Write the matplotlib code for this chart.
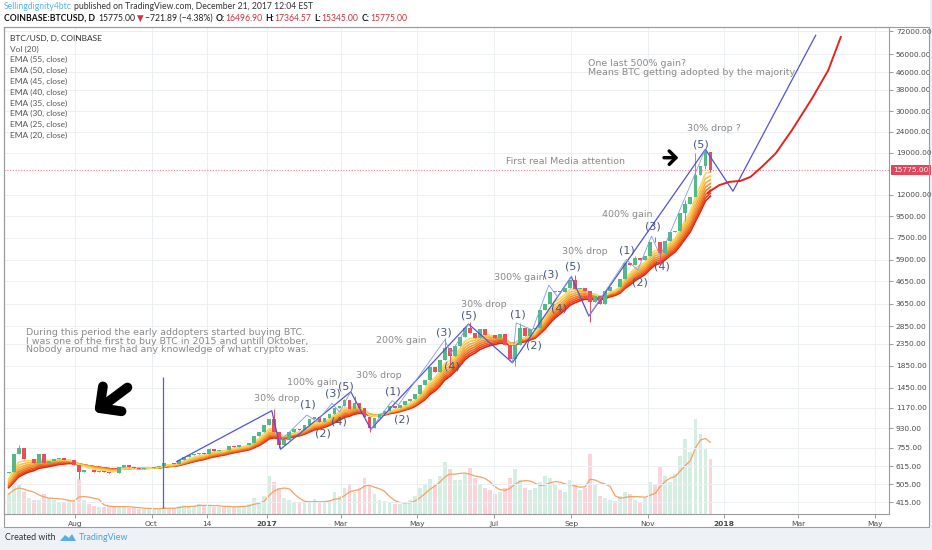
import datetime as dt
import numpy as np
import pandas as pd
import matplotlib
matplotlib.use("Agg")
import matplotlib.pyplot as plt
import matplotlib.dates as mdates
import matplotlib.transforms as mtransforms
from matplotlib.patches import Rectangle, Polygon
from matplotlib.ticker import NullLocator

W, H = 932, 550

# ---- price data: one close every 4 days ----
first_close_day = dt.date(2016, 6, 9)
step = 4

# closes before the visible window, only used to seed the EMAs
warmup_closes = [380, 385, 400, 420, 435, 425, 415, 410, 412, 415,
                 415, 410, 412, 418, 420, 422, 425, 438, 448, 460,
                 455, 448, 450, 447, 440, 445, 455, 470, 530, 572]

closes = [580, 700, 750, 665, 665, 640, 700, 640, 650, 665,
          672, 655, 655, 625, 575, 592, 588, 580, 582, 580,
          573, 572, 608, 622, 608, 606, 597, 602, 605, 610,
          615, 640, 638, 628, 655, 680, 698, 705, 710, 705,
          745, 730, 738, 735, 770, 760, 772, 780, 790, 860,
          895, 965, 1035, 890, 780, 820, 895, 920, 915, 970,
          1030, 1050, 1000, 1040, 1085, 1170, 1190, 1270, 1150, 1235,
          1170, 1050, 935, 1045, 1090, 1130, 1195, 1170, 1200, 1250,
          1280, 1350, 1500, 1580, 1830, 1730, 1960, 2250, 2050, 2300,
          2530, 2800, 2640, 2500, 2750, 2600, 2580, 2500, 2610, 2330,
          2000, 2320, 2800, 2550, 2750, 2800, 3400, 3650, 4150, 4200,
          4150, 4350, 4750, 4300, 4320, 4200, 3700, 3950, 3650, 4200,
          4400, 4370, 4800, 5700, 5580, 6000, 5900, 6130, 7200, 7140,
          6350, 7280, 8000, 8100, 9800, 10900, 11700, 15000, 16500, 19100,
          15775]

volumes = [20, 28, 30, 22, 16, 14, 14, 20, 16, 14,
           12, 12, 14, 12, 35, 14, 10, 8, 7, 7,
           8, 7, 8, 7, 6, 6, 5, 5, 6, 5,
           5, 7, 6, 6, 8, 9, 8, 8, 10, 8,
           9, 7, 7, 7, 8, 7, 8, 8, 10, 16,
           12, 18, 38, 32, 26, 16, 14, 12, 11, 11,
           13, 15, 11, 12, 14, 22, 18, 26, 30, 22,
           26, 36, 30, 20, 14, 13, 11, 10, 10, 12,
           14, 18, 26, 30, 35, 30, 38, 52, 45, 34,
           34, 40, 46, 36, 30, 26, 24, 20, 22, 26,
           36, 45, 34, 26, 24, 26, 32, 38, 36, 30,
           24, 22, 34, 30, 24, 26, 60, 30, 18, 16,
           14, 13, 18, 22, 20, 14, 12, 16, 32, 30,
           48, 38, 32, 40, 58, 75, 62, 95, 80, 66,
           55]

# notable wick extremes (index into closes -> price)
wick_highs = {2: 780, 53: 1150, 67: 1290, 69: 1330, 87: 2500, 92: 2980,
              102: 2950, 113: 4980, 125: 6180, 129: 7600, 134: 9700,
              135: 11400, 137: 19000, 139: 19890, 140: 18900}
wick_lows = {14: 535, 54: 750, 72: 890, 88: 1850, 101: 1840, 116: 2980,
             130: 5550, 135: 9000, 137: 13500, 139: 16000, 140: 15345}

ema_periods = [55, 50, 45, 40, 35, 30, 25, 20]
ema_colors = ['#e3201b', '#e8421d', '#ec5f21', '#f07b27', '#f3952f',
              '#f6ad3b', '#f8c24b', '#fbd660']

# ---- hand drawn lines ----
wave_days = ['2016-10-21', '2017-01-05', '2017-01-12', '2017-03-09', '2017-03-25',
             '2017-06-11', '2017-07-16', '2017-09-01', '2017-09-15', '2017-12-17',
             '2018-01-08', '2018-03-15']
wave_prices = [647, 1130, 741, 1390, 922, 2918, 1910, 4900, 3185, 19770, 12500, 68900]

sub_waves = [
    (['2017-01-12', '2017-02-02', '2017-02-10', '2017-02-22', '2017-02-28', '2017-03-09'],
     [814, 1078, 1002, 1225, 1114, 1390]),
    (['2017-03-25', '2017-04-11', '2017-04-16', '2017-05-23', '2017-05-28', '2017-06-11'],
     [922, 1261, 1203, 2449, 2118, 2918]),
    (['2017-07-16', '2017-07-19', '2017-08-01', '2017-08-14', '2017-08-21', '2017-09-01'],
     [1910, 2958, 2733, 4470, 3934, 4900]),
    (['2017-09-15', '2017-10-15', '2017-10-24', '2017-11-04', '2017-11-11', '2017-12-17'],
     [3185, 5919, 5266, 7640, 6137, 19770]),
]

red_days = ['2017-12-19', '2017-12-21', '2017-12-28', '2018-01-05', '2018-01-14',
            '2018-01-22', '2018-01-31', '2018-02-11', '2018-02-24', '2018-03-12',
            '2018-03-25', '2018-04-04']
red_prices = [12230, 12540, 13350, 13840, 13990, 14620, 16310, 18880, 24360,
              34450, 46950, 67580]

marker_day = '2016-10-10'
marker_span = (390, 1634)
last_price = 15775

price_ticks = [415, 505, 615, 755, 930, 1170, 1450, 1850, 2350, 2850, 3650,
               4650, 5900, 7500, 9500, 12000, 19000, 24000, 30000, 38000,
               46000, 56000, 72000]
tick_days = ['2016-08-01', '2016-10-01', '2016-11-14', '2017-01-01', '2017-03-01',
             '2017-05-01', '2017-07-01', '2017-09-01', '2017-11-01', '2018-01-01',
             '2018-03-01', '2018-05-01']
tick_labels = ['Aug', 'Oct', '14', '2017', 'Mar', 'May', 'Jul', 'Sep', 'Nov',
               '2018', 'Mar', 'May']

wave_labels = [
    ('(1)', 0.3438, 0.2240), ('(2)', 0.3608, 0.1658), ('(3)', 0.3714, 0.2466),
    ('(4)', 0.3789, 0.1896), ('(5)', 0.3861, 0.2616),
    ('(1)', 0.4399, 0.2513), ('(2)', 0.4494, 0.1946), ('(3)', 0.4972, 0.3725),
    ('(4)', 0.5066, 0.3027), ('(5)', 0.5258, 0.4074),
    ('(1)', 0.5811, 0.4103), ('(2)', 0.5992, 0.3458), ('(3)', 0.6177, 0.4917),
    ('(4)', 0.6275, 0.4218), ('(5)', 0.6433, 0.5081),
    ('(1)', 0.7043, 0.5410), ('(2)', 0.7186, 0.4753), ('(3)', 0.7330, 0.5903),
    ('(4)', 0.7432, 0.5081), ('(5)', 0.7876, 0.7602),
]
gain_notes = [
    ('30% drop', 0.3088, 0.2377), ('100% gain', 0.3484, 0.2706),
    ('30% drop', 0.4234, 0.2842), ('200% gain', 0.4486, 0.3555),
    ('30% drop', 0.5427, 0.4300), ('300% gain', 0.5823, 0.4855),
    ('30% drop', 0.6565, 0.5389), ('400% gain', 0.7043, 0.6158),
    ('30% drop ?', 0.8023, 0.7925),
]

up_color = '#53b987'
down_color = '#eb4d5c'
note_color = '#8a8a8a'
wave_color = '#46587a'

# ---- figure ----
fig = plt.figure(figsize=(W / 100, H / 100), dpi=100, facecolor='#eef1f5')
fig.patches.append(Rectangle((0, 1 - 527 / H), 930 / W, 527 / H, transform=fig.transFigure,
                             fc='white', ec='none', zorder=-5))

ax = fig.add_axes([4 / W, 1 - 514 / H, 885 / W, 486.7 / H])
vax = ax.twinx()
ax.set_zorder(vax.get_zorder() + 1)
ax.patch.set_visible(False)

n = len(closes)
days = [first_close_day + dt.timedelta(days=step * i) for i in range(n)]
x = mdates.date2num(days)

c = np.array(closes, dtype=float)
o = np.array([warmup_closes[-1]] + closes[:-1], dtype=float)
hi = np.maximum(o, c)
lo = np.minimum(o, c)
for i, v in wick_highs.items():
    hi[i] = v
for i, v in wick_lows.items():
    lo[i] = v
colors = np.where(c >= o, up_color, down_color)

# volume (behind)
vax.bar(x, volumes, width=3.0, color=colors, alpha=0.24, lw=0)
vol_ma = pd.Series(volumes).rolling(5, min_periods=1).mean()
vax.plot(x, vol_ma, color='#f4a262', lw=0.9)
vax.set_ylim(0, 487)
vax.set_yticks([])
for s in vax.spines.values():
    s.set_visible(False)

# EMA ribbon
all_closes = pd.Series(warmup_closes + closes, dtype=float)
for p, col in zip(ema_periods, ema_colors):
    ema = all_closes.ewm(span=p / step, adjust=False).mean().iloc[len(warmup_closes):]
    ax.plot(x, ema.values, color=col, lw=1.2, zorder=2)

# candles
ax.vlines(x, lo, hi, colors=colors, lw=0.7, zorder=3)
ax.bar(x, np.abs(c - o), bottom=np.minimum(o, c), width=3.0, color=colors, lw=0, zorder=4)

# drawings
ax.plot(mdates.datestr2num(wave_days), wave_prices, color='#5252d9', lw=0.9, zorder=5)
for d, p in sub_waves:
    ax.plot(mdates.datestr2num(d), p, color='#7f9ee0', lw=0.6, zorder=5)
ax.plot(mdates.datestr2num(red_days), red_prices, color='#e6221e', lw=1.4, zorder=5)
ax.vlines(mdates.datestr2num(marker_day), *marker_span, color='#5a5ae0', lw=0.9, zorder=5)
ax.axhline(last_price, color='#f07f90', ls=(0, (1, 1.5)), lw=0.8, zorder=1)

# axes styling
ax.set_yscale('log')
ax.set_ylim(364.6, 75200)
ax.set_xlim(mdates.date2num(dt.datetime(2016, 6, 5, 7)), mdates.date2num(dt.datetime(2018, 5, 12, 12)))
ax.yaxis.tick_right()
ax.set_yticks(price_ticks)
ax.set_yticklabels([f'{p:.2f}' for p in price_ticks])
ax.yaxis.set_minor_locator(NullLocator())
ax.set_xticks(mdates.datestr2num(tick_days))
ax.set_xticklabels(tick_labels)
for lbl in ax.get_xticklabels():
    if lbl.get_text() in ('2017', '2018'):
        lbl.set_fontweight('bold')
ax.tick_params(axis='both', length=3, width=0.6, color='#8c8c8c', labelsize=5.4,
               labelcolor='#4a4a4a', pad=2)
ax.grid(True, color='#edf0f3', lw=0.7)
ax.set_axisbelow(True)
for s in ax.spines.values():
    s.set_color('#9b9b9b')
    s.set_linewidth(0.8)

trans = mtransforms.blended_transform_factory(ax.transAxes, ax.transData)
ax.text(1.0 + 4 / 885, last_price, f'{last_price:.2f}', transform=trans, ha='left', va='center',
        fontsize=5.4, color='white', clip_on=False, zorder=10,
        bbox=dict(boxstyle='square,pad=0.3', fc='#e2465d', ec='none'))

# outer frame around chart + scales
fig.patches.append(Rectangle((4 / W, 1 - 527 / H), 925 / W, 499.7 / H, transform=fig.transFigure,
                             fill=False, ec='#9b9b9b', lw=0.8))

# annotations
for s, fx, fy in wave_labels:
    ax.text(fx, fy, s, transform=ax.transAxes, fontsize=8, color=wave_color,
            ha='center', va='center', zorder=6)
for s, fx, fy in gain_notes:
    ax.text(fx, fy, s, transform=ax.transAxes, fontsize=6.8, color=note_color,
            ha='center', va='center', zorder=6)
ax.text(0.5672, 0.7239, 'First real Media attention', transform=ax.transAxes, fontsize=6.8,
        color=note_color, ha='left', va='center')
ax.text(0.6602, 0.9154, 'One last 500% gain?\nMeans BTC getting adopted by the majority',
        transform=ax.transAxes, fontsize=6.8, color=note_color, ha='left', va='center',
        linespacing=1.0)
ax.text(0.0249, 0.3548, 'During this period the early addopters started buying BTC.\n'
        'I was one of the first to buy BTC in 2015 and untill Oktober,\n'
        'Nobody around me had any knowledge of what crypto was.',
        transform=ax.transAxes, fontsize=6.8, color=note_color, ha='left', va='center',
        linespacing=0.95)
ax.annotate('', xy=(0.1020, 0.2090), xytext=(0.1395, 0.2600), xycoords='axes fraction',
            arrowprops=dict(arrowstyle='->,head_length=0.8,head_width=0.8', lw=7,
                            color='black', mutation_scale=14, capstyle='round',
                            joinstyle='round', shrinkA=0, shrinkB=0))
ax.annotate('', xy=(0.7620, 0.7321), xytext=(0.7458, 0.7321), xycoords='axes fraction',
            arrowprops=dict(arrowstyle='->,head_length=0.6,head_width=0.6', lw=2.5,
                            color='black', mutation_scale=8, capstyle='round',
                            joinstyle='round', shrinkA=0, shrinkB=0))

# indicator legend
legend_rows = ['BTC/USD, D, COINBASE', 'Vol (20)'] + [f'EMA ({p}, close)' for p in ema_periods]
for i, s in enumerate(legend_rows):
    ax.text(6 / 885, 1 - (11 + 10.8 * i) / 486.7, s, transform=ax.transAxes, fontsize=6,
            family=['Lato', 'DejaVu Sans'], color='#333333' if i == 0 else '#555555',
            ha='left', va='center')

# header rows
renderer = fig.canvas.get_renderer()


def write_row(pieces, x_px, y_px, size):
    for txt, col, weight, gap in pieces:
        t = fig.text(x_px / W, 1 - y_px / H, txt, color=col, fontsize=size, fontweight=weight,
                     family=['Lato', 'DejaVu Sans'], ha='left', va='center')
        x_px = t.get_window_extent(renderer).x1 + gap


write_row([('Sellingdignity4btc', '#5ab3e6', 'normal', 2.5),
           ('published on TradingView.com, December 21, 2017 12:04 EST', '#333333', 'normal', 0)],
          4, 6.7, 6.2)
red = '#d0313d'
write_row([('COINBASE:BTCUSD, D', '#111111', 'bold', 3),
           ('15775.00', '#222222', 'normal', 1.5),
           ('\u25bc', red, 'normal', 1.5),
           ('\u2212721.89 (\u22124.38%)', '#222222', 'normal', 3),
           ('O:', '#111111', 'bold', 0.5), ('16496.90', red, 'normal', 3),
           ('H:', '#111111', 'bold', 0.5), ('17364.57', red, 'normal', 3),
           ('L:', '#111111', 'bold', 0.5), ('15345.00', red, 'normal', 3),
           ('C:', '#111111', 'bold', 0.5), ('15775.00', red, 'normal', 0)],
          4, 18.3, 6.2)

# footer
fig.text(5 / W, 1 - 538 / H, 'Created with', fontsize=6.4, color='#333333',
         family=['Lato', 'DejaVu Sans'], ha='left', va='center')
fig.patches.append(Polygon([(60 / W, 1 - 541 / H), (65 / W, 1 - 535 / H), (69 / W, 1 - 538 / H),
                            (72 / W, 1 - 534 / H), (76 / W, 1 - 541 / H)],
                           closed=True, transform=fig.transFigure, fc='#5aaee0', ec='none'))
fig.text(79 / W, 1 - 538 / H, 'TradingView', fontsize=6.4, color='#4aa0d8',
         family=['Lato', 'DejaVu Sans'], ha='left', va='center')

fig.savefig('out.png', dpi=100, facecolor=fig.get_facecolor())
